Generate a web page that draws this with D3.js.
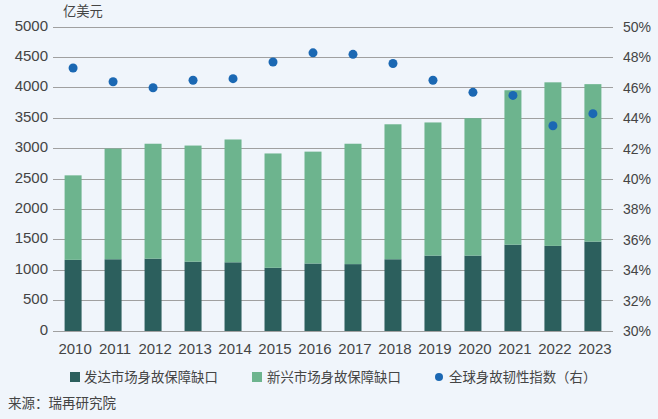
<!DOCTYPE html>
<html><head><meta charset="utf-8">
<script src="https://cdn.jsdelivr.net/npm/d3@7"></script>
<style>
html,body{margin:0;padding:0;background:#f0f5fb;}
svg{display:block;font-family:"Noto Sans CJK SC","Noto Sans",sans-serif;}
</style></head>
<body>
<svg id="c" width="658" height="419"></svg>
<script>
const years = ["2010","2011","2012","2013","2014","2015","2016","2017","2018","2019","2020","2021","2022","2023"];
const developed = [1170,1180,1190,1140,1130,1040,1110,1100,1180,1240,1240,1420,1400,1470];
const totals = [2560,3000,3080,3050,3150,2920,2950,3080,3400,3430,3500,3960,4090,4060];
const emerging = totals.map((t,i)=>t-developed[i]);
const resilience = [47.3,46.4,46.0,46.5,46.6,47.7,48.3,48.2,47.6,46.5,45.7,45.5,43.5,44.3];
const leftTicks = [0,500,1000,1500,2000,2500,3000,3500,4000,4500,5000];
const rightTicks = [30,32,34,36,38,40,42,44,46,48,50];

const svg = d3.select("#c");
const L=53, R=613, T=27, B=331;
const x = d3.scaleBand().domain(years).range([L,R]).paddingInner(0.575).paddingOuter(0.29);
const y = d3.scaleLinear().domain([0,5000]).range([B,T]);
const y2 = d3.scaleLinear().domain([30,50]).range([B,T]);
const cDark="#2c5f5d", cLight="#6db48e", cDot="#1b68b3", cText="#444";
const numFont = "Liberation Sans, Arial, sans-serif";

// grid
svg.append("g").selectAll("line").data(leftTicks).join("line")
  .attr("x1",L).attr("x2",R).attr("y1",d=>y(d)).attr("y2",d=>y(d))
  .attr("stroke","#a0a0a0").attr("stroke-width",1).attr("shape-rendering","crispEdges");

// left axis
const ya = svg.append("g").attr("transform",`translate(${L},0)`)
  .call(d3.axisLeft(y).tickValues(leftTicks).tickSize(0).tickPadding(5).tickFormat(d3.format("d")));
ya.select(".domain").remove();
ya.selectAll("text").attr("font-size",15).attr("fill",cText).attr("font-family",numFont).attr("dy","0.2em");

// right axis
const yb = svg.append("g").attr("transform",`translate(${R},0)`)
  .call(d3.axisRight(y2).tickValues(rightTicks).tickSize(0).tickPadding(10).tickFormat(d=>d+"%"));
yb.select(".domain").remove();
yb.selectAll("text").attr("font-size",14).attr("fill",cText).attr("font-family",numFont);

// x axis
const xa = svg.append("g").attr("transform",`translate(2,${B})`)
  .call(d3.axisBottom(x).tickSize(0).tickPadding(12));
xa.select(".domain").remove();
xa.selectAll("text").attr("font-size",15).attr("fill",cText).attr("font-family",numFont);

// bars
svg.append("g").selectAll("rect").data(years).join("rect")
  .attr("x",d=>x(d)).attr("width",x.bandwidth())
  .attr("y",(d,i)=>y(developed[i])).attr("height",(d,i)=>y(0)-y(developed[i]))
  .attr("fill",cDark);
svg.append("g").selectAll("rect").data(years).join("rect")
  .attr("x",d=>x(d)).attr("width",x.bandwidth())
  .attr("y",(d,i)=>y(developed[i]+emerging[i])).attr("height",(d,i)=>y(developed[i])-y(developed[i]+emerging[i]))
  .attr("fill",cLight);

// dots
svg.append("g").selectAll("circle").data(years).join("circle")
  .attr("cx",d=>x(d)+x.bandwidth()/2).attr("cy",(d,i)=>y2(resilience[i]))
  .attr("r",4.5).attr("fill",cDot);

// unit label
svg.append("text").attr("x",63).attr("y",16).attr("font-size",13.3).attr("fill",cText).text("亿美元");

// legend
const lg = svg.append("g").attr("font-size",13.4).attr("fill",cText);
lg.append("rect").attr("x",70).attr("y",372).attr("width",10).attr("height",10).attr("fill",cDark);
lg.append("text").attr("x",84).attr("y",382).text("发达市场身故保障缺口");
lg.append("rect").attr("x",252).attr("y",372).attr("width",10).attr("height",10).attr("fill",cLight);
lg.append("text").attr("x",267).attr("y",382).text("新兴市场身故保障缺口");
lg.append("circle").attr("cx",439).attr("cy",377).attr("r",4).attr("fill",cDot);
lg.append("text").attr("x",449).attr("y",382).text("全球身故韧性指数（右）");

svg.append("text").attr("x",8).attr("y",408).attr("font-size",13.5).attr("fill",cText).text("来源：瑞再研究院");
</script>
</body></html>
